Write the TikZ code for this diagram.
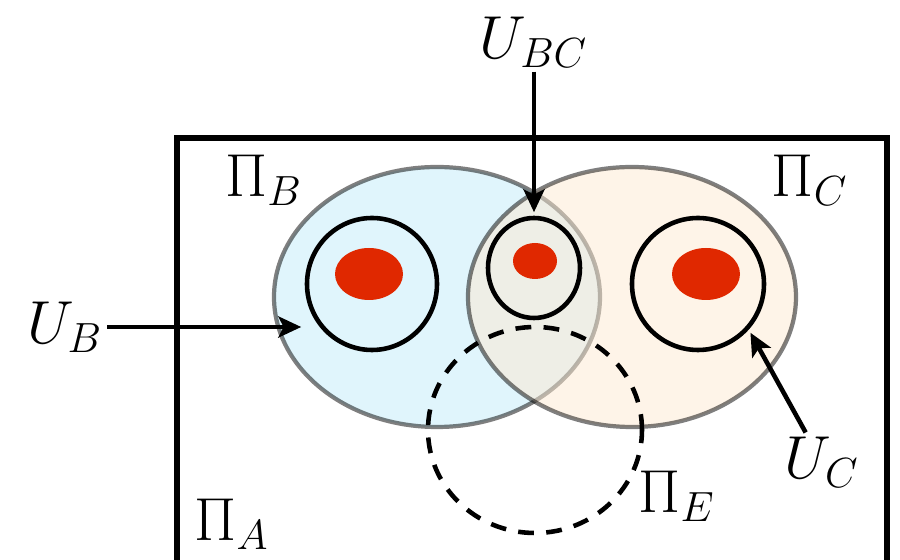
\documentclass[tikz,border=0pt]{standalone}
\usepackage{tikz}
\usetikzlibrary{arrows.meta,positioning,shapes.geometric}
\definecolor{regblue}{HTML}{C1EBF9}
\definecolor{regorange}{HTML}{FDE9D1}
\definecolor{dotred}{HTML}{E02800}

\begin{document}
\begin{tikzpicture}[>={Stealth[length=6.5pt,width=6pt,inset=1.5pt]}, font=\LARGE,
    region/.style={ellipse, draw=black, opacity=0.5, line width=1.2pt, inner sep=0pt},
    nbhd/.style={ellipse, draw, line width=1.3pt, inner sep=0pt},
    dot/.style={ellipse, fill=dotred, inner sep=0pt},
    lbl/.style={inner sep=1pt},
    arr/.style={->, line width=1.3pt, shorten >=1pt}]
\clip (0,0) rectangle (9,5.6);
\useasboundingbox (0,0) rectangle (9,5.6);
% outer set
\draw[line width=1.7pt] (1.77,-0.2) rectangle (8.87,4.22);
% overlapping regions
\node[region, fill=regblue, minimum width=3.26cm, minimum height=2.6cm] (pib) at (4.37,2.63) {};
\node[region, fill=regorange, minimum width=3.28cm, minimum height=2.6cm] (pic) at (6.32,2.63) {};
\node[ellipse, draw, dashed, line width=1.3pt, dash pattern=on 4.5pt off 3.5pt,
  minimum width=2.14cm, minimum height=2.06cm] (pie) at (5.35,1.30) {};
% neighbourhoods and points
\node[nbhd, minimum width=1.3cm, minimum height=1.32cm] (ub) at (3.72,2.76) {};
\node[nbhd, minimum width=0.92cm, minimum height=1.0cm] (ubc) at (5.34,2.92) {};
\node[nbhd, minimum width=1.32cm, minimum height=1.32cm] (uc) at (6.98,2.76) {};
\node[dot, minimum width=0.68cm, minimum height=0.52cm] (xb) at (3.69,2.86) {};
\node[dot, minimum width=0.44cm, minimum height=0.36cm] (xbc) at (5.35,2.99) {};
\node[dot, minimum width=0.68cm, minimum height=0.52cm] (xc) at (7.06,2.86) {};
% labels
\node[lbl] (lpia) at (2.32,0.36) {$\Pi_A$};
\node[lbl] (lpib) at (2.64,3.80) {$\Pi_B$};
\node[lbl] (lpic) at (8.10,3.80) {$\Pi_C$};
\node[lbl] (lpie) at (6.77,0.64) {$\Pi_E$};
\node[lbl] (lubc) at (5.34,5.18) {$U_{BC}$};
\node[lbl] (lub) at (0.65,2.33) {$U_B$};
\node[lbl] (luc) at (8.22,0.98) {$U_C$};
% arrows
\draw[arr] (lubc) -- (ubc.north);
\draw[arr] (lub) -- (ub.west |- lub);
\draw[arr] (luc) -- (uc.-42);
\end{tikzpicture}
\end{document}
